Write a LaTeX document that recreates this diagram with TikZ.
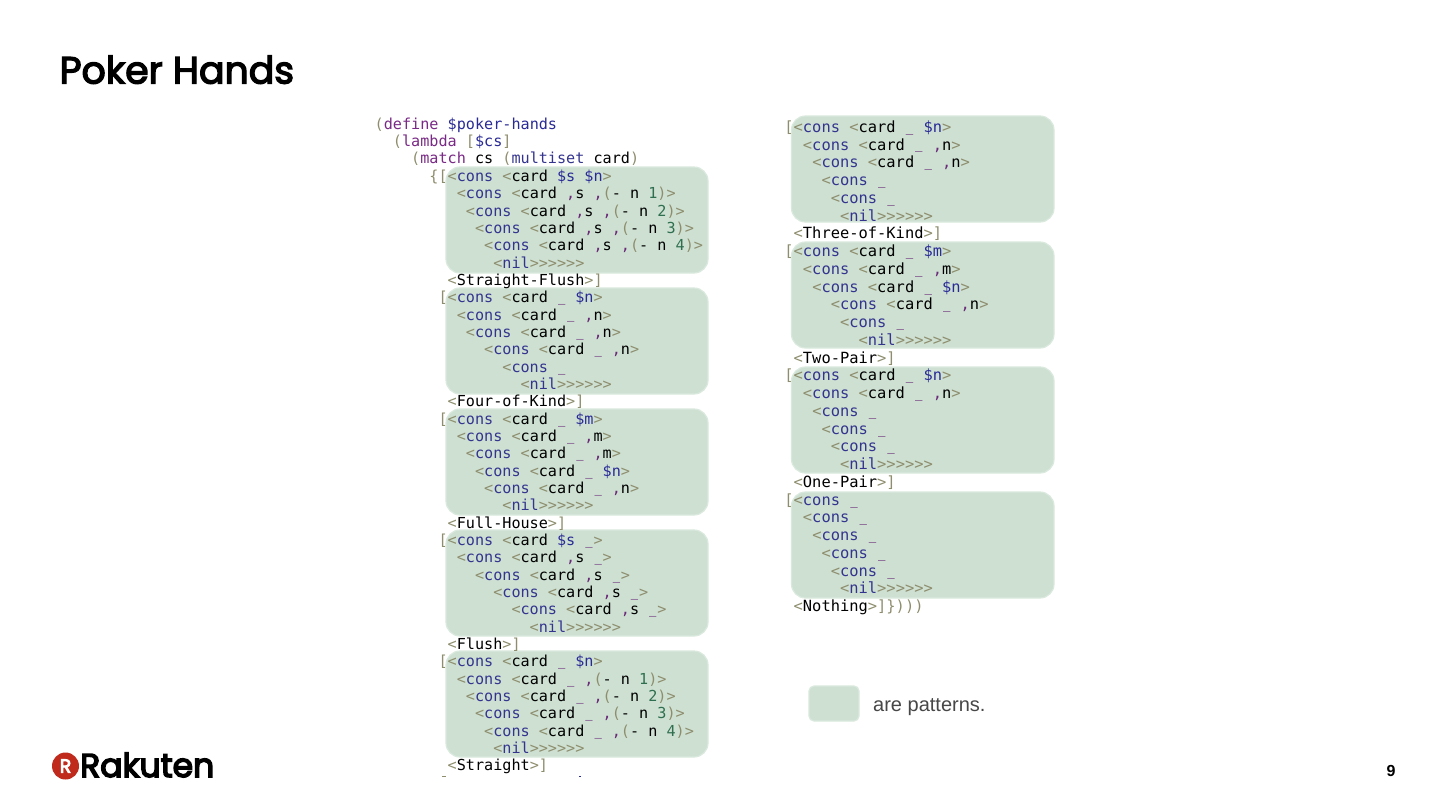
\documentclass[tikz,border=0pt]{standalone}
\usepackage{fontspec}
\newfontfamily\codefont{DejaVu Sans Mono}
\newfontfamily\titlefont{Poppins}[FakeBold=3.5]
\newfontfamily\logofont{Poppins}[FakeBold=4.5]
\newfontfamily\helv{Liberation Sans}
\definecolor{olv}{HTML}{8E8E6E}
\definecolor{kwblue}{HTML}{34348F}
\definecolor{kwpurple}{HTML}{7A2A86}
\definecolor{varblue}{HTML}{2A2A96}
\definecolor{mkpurple}{HTML}{6A2A78}
\definecolor{numgreen}{HTML}{2F6F4F}
\definecolor{patfill}{HTML}{CDE0D2}
\definecolor{patedge}{HTML}{DAE9DD}
\definecolor{rakred}{HTML}{BF2A1C}
\newcommand\xpa[1]{\textcolor{olv}{#1}}
\newcommand\xkw[1]{\textcolor{kwblue}{#1}}
\newcommand\xpk[1]{\textcolor{kwpurple}{#1}}
\newcommand\xva[1]{\textcolor{varblue}{\$#1}}
\newcommand\xnm[1]{\textcolor{numgreen}{#1}}
\newcommand\xCn{\xpa{<}\xkw{cons}}
\newcommand\xCd{\xpa{<}card}
\newcommand\xU{\textcolor{mkpurple}{\makebox[0.602em][c]{\scalebox{0.8}[1]{\raisebox{0.07em}{\_}}}}}
\newcommand\xV[1]{\textcolor{mkpurple}{,}#1}
\newcommand\xM[1]{\textcolor{mkpurple}{,}\xpa{(}- n \xnm{#1}\xpa{)}}
\newcommand\xE{\xpa{>}}
\newcommand\xNil{\xpa{<}\xkw{nil}\xpa{>>>>>>}}
\newcommand\xLab[1]{\xpa{<}#1\xpa{>]}}
\tikzset{
  x=1pt,y=-1pt,
  patbox/.style={fill=patfill,draw=patedge,line width=1.2pt,rounded corners=14pt},
  codeL/.style={anchor=base west,inner sep=0pt,font=\codefont\fontsize{15.15}{17}\selectfont},
  codeR/.style={anchor=base west,inner sep=0pt,font=\codefont\fontsize{15.41}{17}\selectfont},
  tick/.style={inner sep=0pt,minimum width=4pt,minimum height=1pt}
}
\newcommand\xL[3]{\node[codeL] (l#1) at ({374.5+#2*9.12},{129.3+#1*17.34}) {#3};}
\newcommand\xR[3]{\node[codeR] (r#1) at ({784.2+#2*9.28},{132.3+#1*17.755}) {#3};}
\newcommand\xBox[5]{\path[patbox] (#2,#3) rectangle (#4,#5) node[inner sep=0pt] (#1) {};}
\begin{document}
\begin{tikzpicture}
\useasboundingbox (0,0) rectangle (1440,809);
\fill[white] (0,0) rectangle (1440,809);
\node[anchor=base west,inner sep=0pt,font=\titlefont\fontsize{37.8}{40}\selectfont] (title) at (59.5,83.5) {Poker Hands};
% pattern boxes
\xBox{a1}{446}{167}{708}{273}
\xBox{a2}{446}{288}{708}{394}
\xBox{a3}{446}{409}{708}{515}
\xBox{a4}{446}{530}{708}{636}
\xBox{a5}{446}{651}{708}{757}
\xBox{b1}{791.5}{116}{1054}{222}
\xBox{b2}{791.5}{242}{1054}{348}
\xBox{b3}{791.5}{367}{1054}{473}
\xBox{b4}{791.5}{492}{1054}{598}
\path[patbox,rounded corners=5pt] (809,686) rectangle (859,721);
% left column
\xL{0}{0}{\xpa{(}\xpk{define} \xva{poker-hands}}
\xL{1}{2}{\xpa{(}\xpk{lambda} \xpa{[}\xva{cs}\xpa{]}}
\xL{2}{4}{\xpa{(}\xpk{match} cs \xpa{(}\xkw{multiset} card\xpa{)}}
\xL{3}{6}{\xpa{\{[}\xCn{} \xCd{} \xva{s} \xva{n}\xE}
\xL{4}{9}{\xCn{} \xCd{} \xV{s} \xM{1}\xE}
\xL{5}{10}{\xCn{} \xCd{} \xV{s} \xM{2}\xE}
\xL{6}{11}{\xCn{} \xCd{} \xV{s} \xM{3}\xE}
\xL{7}{12}{\xCn{} \xCd{} \xV{s} \xM{4}\xE}
\xL{8}{13}{\xNil}
\xL{9}{8}{\xLab{Straight-Flush}}
\xL{10}{7}{\xpa{[}\xCn{} \xCd{} \xU{} \xva{n}\xE}
\xL{11}{9}{\xCn{} \xCd{} \xU{} \xV{n}\xE}
\xL{12}{10}{\xCn{} \xCd{} \xU{} \xV{n}\xE}
\xL{13}{12}{\xCn{} \xCd{} \xU{} \xV{n}\xE}
\xL{14}{14}{\xCn{} \xU}
\xL{15}{16}{\xNil}
\xL{16}{8}{\xLab{Four-of-Kind}}
\xL{17}{7}{\xpa{[}\xCn{} \xCd{} \xU{} \xva{m}\xE}
\xL{18}{9}{\xCn{} \xCd{} \xU{} \xV{m}\xE}
\xL{19}{10}{\xCn{} \xCd{} \xU{} \xV{m}\xE}
\xL{20}{11}{\xCn{} \xCd{} \xU{} \xva{n}\xE}
\xL{21}{12}{\xCn{} \xCd{} \xU{} \xV{n}\xE}
\xL{22}{14}{\xNil}
\xL{23}{8}{\xLab{Full-House}}
\xL{24}{7}{\xpa{[}\xCn{} \xCd{} \xva{s} \xU\xE}
\xL{25}{9}{\xCn{} \xCd{} \xV{s} \xU\xE}
\xL{26}{11}{\xCn{} \xCd{} \xV{s} \xU\xE}
\xL{27}{13}{\xCn{} \xCd{} \xV{s} \xU\xE}
\xL{28}{15}{\xCn{} \xCd{} \xV{s} \xU\xE}
\xL{29}{17}{\xNil}
\xL{30}{8}{\xLab{Flush}}
\xL{31}{7}{\xpa{[}\xCn{} \xCd{} \xU{} \xva{n}\xE}
\xL{32}{9}{\xCn{} \xCd{} \xU{} \xM{1}\xE}
\xL{33}{10}{\xCn{} \xCd{} \xU{} \xM{2}\xE}
\xL{34}{11}{\xCn{} \xCd{} \xU{} \xM{3}\xE}
\xL{35}{12}{\xCn{} \xCd{} \xU{} \xM{4}\xE}
\xL{36}{13}{\xNil}
\xL{37}{8}{\xLab{Straight}}
% cut-off tops of the next line
\node[tick,fill=olv] (cut1) at (443.5,776) {};
\node[tick,fill=varblue,minimum width=1.5pt] (cut2) at (580,776) {};
% right column
\xR{0}{0}{\xpa{[}\xCn{} \xCd{} \xU{} \xva{n}\xE}
\xR{1}{2}{\xCn{} \xCd{} \xU{} \xV{n}\xE}
\xR{2}{3}{\xCn{} \xCd{} \xU{} \xV{n}\xE}
\xR{3}{4}{\xCn{} \xU}
\xR{4}{5}{\xCn{} \xU}
\xR{5}{6}{\xNil}
\xR{6}{1}{\xLab{Three-of-Kind}}
\xR{7}{0}{\xpa{[}\xCn{} \xCd{} \xU{} \xva{m}\xE}
\xR{8}{2}{\xCn{} \xCd{} \xU{} \xV{m}\xE}
\xR{9}{3}{\xCn{} \xCd{} \xU{} \xva{n}\xE}
\xR{10}{5}{\xCn{} \xCd{} \xU{} \xV{n}\xE}
\xR{11}{6}{\xCn{} \xU}
\xR{12}{8}{\xNil}
\xR{13}{1}{\xLab{Two-Pair}}
\xR{14}{0}{\xpa{[}\xCn{} \xCd{} \xU{} \xva{n}\xE}
\xR{15}{2}{\xCn{} \xCd{} \xU{} \xV{n}\xE}
\xR{16}{3}{\xCn{} \xU}
\xR{17}{4}{\xCn{} \xU}
\xR{18}{5}{\xCn{} \xU}
\xR{19}{6}{\xNil}
\xR{20}{1}{\xLab{One-Pair}}
\xR{21}{0}{\xpa{[}\xCn{} \xU}
\xR{22}{2}{\xCn{} \xU}
\xR{23}{3}{\xCn{} \xU}
\xR{24}{4}{\xCn{} \xU}
\xR{25}{5}{\xCn{} \xU}
\xR{26}{6}{\xNil}
\xR{27}{1}{\xpa{<}Nothing\xpa{>]\})))}}
% legend
\node[anchor=base west,inner sep=0pt,text=black!72,font=\helv\fontsize{20}{24}\selectfont] (legend) at (873,711) {are patterns.};
% logo
\node[circle,fill=rakred,minimum size=27pt,inner sep=0pt,text=white,font=\logofont\fontsize{19}{20}\selectfont] (logo) at (65.5,766) {R};
\node[anchor=base west,inner sep=0pt,font=\logofont\fontsize{33}{36}\selectfont] (rak) at (80,777) {Rakuten};
% page number
\node[anchor=base,inner sep=0pt,font=\helv\bfseries\fontsize{16}{18}\selectfont] (page) at (1391,776) {9};
\end{tikzpicture}
\end{document}
